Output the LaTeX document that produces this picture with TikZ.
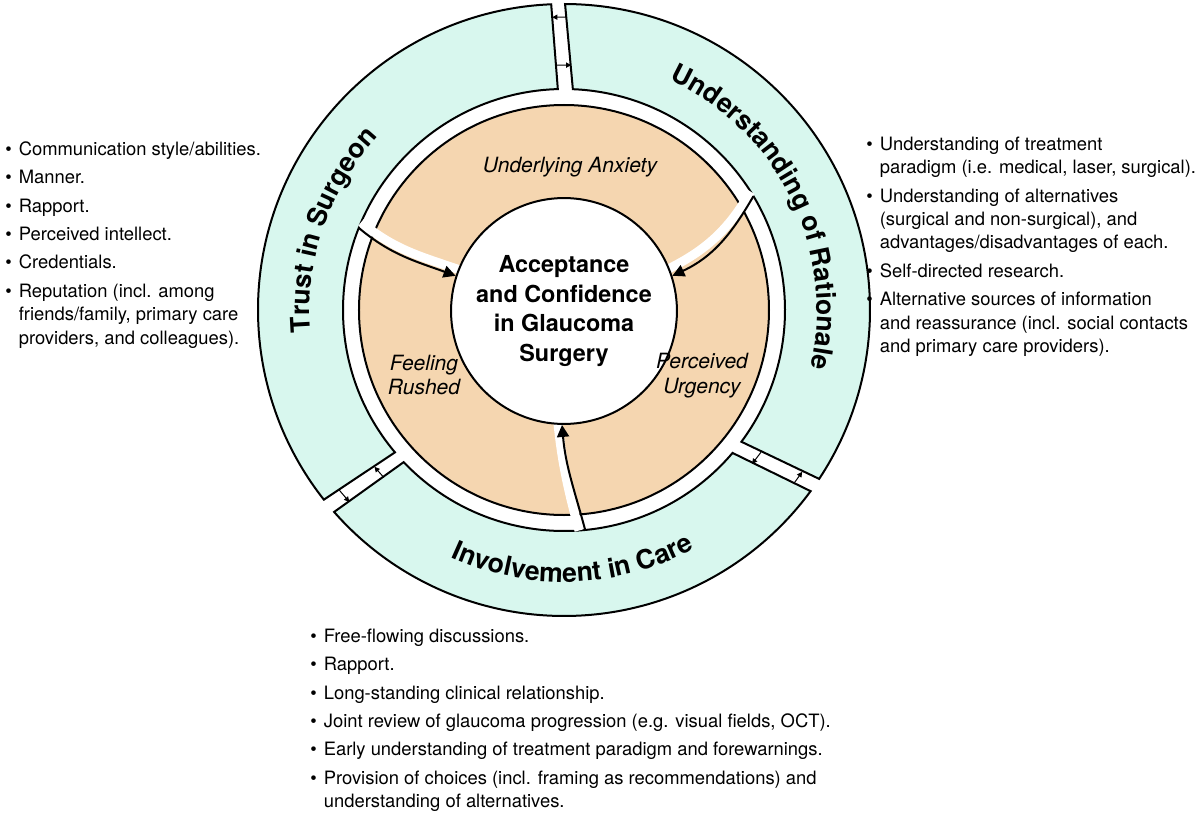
\documentclass[tikz,border=0pt]{standalone}
\usepackage{fontspec}
\setmainfont{TeX Gyre Heros}
\usetikzlibrary{arrows.meta,decorations.text}
\definecolor{mint}{RGB}{216,247,238}
\definecolor{peach}{RGB}{245,214,176}
\newcommand{\listfont}{\fontsize{9.2}{11.7}\selectfont}
\newcommand{\arcfont}{\fontsize{13.3}{15}\selectfont\bfseries}
\tikzset{
	sector/.style={draw=black, line width=1pt, fill=mint},
	flow/.style={line width=1pt, -{Triangle[length=6pt,width=6pt]}},
	swap/.style={line width=0.5pt, -{Triangle[length=2.6pt,width=2.6pt]}},
	channel/.style={white, line width=4.5pt},
	theme/.style={font=\fontsize{10.5}{12.5}\selectfont\itshape, align=center},
	bullets/.style={anchor=north west, inner sep=0pt, font=\listfont},
}
\begin{document}
\begin{tikzpicture}[x=0.5pt, y=0.5pt]
	\useasboundingbox (-564,-504) rectangle (635,310);
	% outer ring
	\draw[sector] (92.4:306) arc[start angle=92.4, end angle=218.3, radius=306] -- (220.1:221) arc[start angle=220.1, end angle=91.6, radius=221] -- cycle;
	\draw[sector] (89.8:306) arc[start angle=89.8, end angle=-33.5, radius=306] -- (-36.6:221) arc[start angle=-36.6, end angle=87.7, radius=221] -- cycle;
	\draw[sector] (-36.3:306) arc[start angle=-36.3, end angle=-138.7, radius=306] -- (-136.5:221) arc[start angle=-136.5, end angle=-40.3, radius=221] -- cycle;
	% inner ring
	\fill[peach] (0,0) circle (205);
	\draw[line width=1pt] (0,0) circle (205);
	\draw[channel] (156.6:221) to[out=-40, in=160] (158.8:100);
	\draw[channel] (32.4:221) to[out=-120, in=25] (21:101);
	\draw[channel] (-86.1:221) to[out=105, in=-85] (-94.2:100);
	\node[circle, draw, line width=1pt, fill=white, minimum size=106pt, align=center, font=\fontsize{11.7}{14.85}\selectfont\bfseries] (core) at (0,-1) {Acceptance\\and Confidence\\in Glaucoma\\Surgery};
	\coordinate (ul) at (158.2:221);
	\coordinate (ur) at (31:221);
	\coordinate (bt) at (-84.5:221);
	\draw[flow] (ul) to[out=-40, in=160] (core.162);
	\draw[flow] (ur) to[out=-120, in=25] (core.18);
	\draw[flow] (bt) to[out=105, in=-85] (core.-91);
	\node[theme] (anxiety) at (6,143) {Underlying Anxiety};
	\node[theme] (rushed) at (-140,-65) {Feeling\\Rushed};
	\node[theme] (urgency) at (138,-66) {Perceived\\Urgency};
	% arrows between the outer sectors
	\foreach \a/\b/\r [count=\i] in {89.5/92.3/293, 91.8/88.3/245, 222.9/219.6/246, 218.7/221.8/288, -35.8/-39.3/243, -37.1/-34.2/288}{
		\coordinate (s\i a) at (\a:\r);
		\coordinate (s\i b) at (\b:\r);
		\draw[swap] (s\i a) -- (s\i b);
	}
	% ring labels
	\path[decorate, decoration={text along path, text align=center, text={|\arcfont|Trust in Surgeon}}] (201:254) arc[start angle=201, end angle=121, radius=254];
	\path[decorate, decoration={text along path, text align=center, text={|\arcfont|Understanding of Rationale}}] (76:253) arc[start angle=76, end angle=-24, radius=253];
	\path[decorate, decoration={text along path, text align=center, text={|\arcfont|Involvement in Care}}] (232:272) arc[start angle=232, end angle=312, radius=272];
	% lists
	\node[bullets] (trustlist) at (-559,171.4) {\begin{tabular}{@{}l@{\hspace{3.5pt}}l@{}}
		\textbullet & Communication style/abilities.\\[2.5pt]
		\textbullet & Manner.\\[2.5pt]
		\textbullet & Rapport.\\[2.5pt]
		\textbullet & Perceived intellect.\\[2.5pt]
		\textbullet & Credentials.\\[2.5pt]
		\textbullet & Reputation (incl. among\\
		& friends/family, primary care\\
		& providers, and colleagues).
	\end{tabular}};
	\node[bullets] (rationalelist) at (302,176.4) {\begin{tabular}{@{}l@{\hspace{3.5pt}}l@{}}
		\textbullet & Understanding of treatment\\
		& paradigm (i.e. medical, laser, surgical).\\[2.5pt]
		\textbullet & Understanding of alternatives\\
		& (surgical and non-surgical), and\\
		& advantages/disadvantages of each.\\[2.5pt]
		\textbullet & Self-directed research.\\[2.5pt]
		\textbullet & Alternative sources of information\\
		& and reassurance (incl. social contacts\\
		& and primary care providers).
	\end{tabular}};
	\node[bullets] (carelist) at (-254,-315.6) {\begin{tabular}{@{}l@{\hspace{3.5pt}}l@{}}
		\textbullet & Free-flowing discussions.\\[2.5pt]
		\textbullet & Rapport.\\[2.5pt]
		\textbullet & Long-standing clinical relationship.\\[2.5pt]
		\textbullet & Joint review of glaucoma progression (e.g. visual fields, OCT).\\[2.5pt]
		\textbullet & Early understanding of treatment paradigm and forewarnings.\\[2.5pt]
		\textbullet & Provision of choices (incl. framing as recommendations) and\\
		& understanding of alternatives.
	\end{tabular}};
\end{tikzpicture}
\end{document}
